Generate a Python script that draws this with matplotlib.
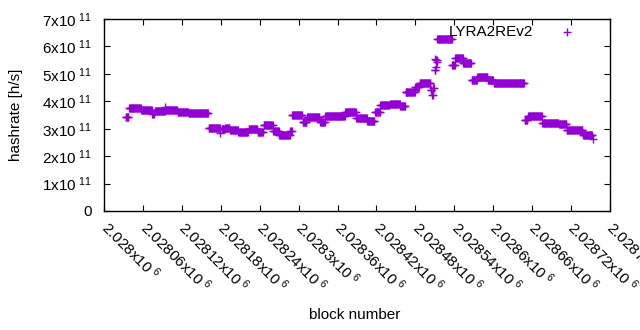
import numpy as np
import matplotlib
matplotlib.use("Agg")
import matplotlib.pyplot as plt

plt.rcParams['font.family'] = ['Liberation Sans', 'DejaVu Sans']
plt.rcParams['mathtext.fontset'] = 'custom'
plt.rcParams['mathtext.rm'] = 'Liberation Sans'

# Piecewise-constant hashrate segments (block offset from 2028000)
seg_start = [33, 38, 57, 74, 78, 94, 95, 113, 130, 161, 179, 181, 187, 194, 207, 223, 237, 246,
             261, 270, 287, 290, 306, 313, 333, 341, 372, 389, 406, 418, 426, 441, 457, 465,
             480, 487, 504, 506, 508, 510, 512, 514, 537, 542, 554, 567, 576, 586, 592, 601,
             649, 654, 676, 702, 714, 739, 754]
seg_end = [37, 56, 73, 76, 93, 94, 112, 129, 160, 178, 179, 186, 193, 206, 222, 236, 245, 260,
           269, 286, 289, 305, 312, 332, 340, 371, 388, 405, 417, 425, 440, 456, 464, 479,
           486, 503, 505, 507, 509, 511, 513, 536, 541, 553, 566, 575, 585, 591, 600, 648,
           653, 675, 701, 713, 738, 753, 754]
seg_value = [3.42, 3.74, 3.69, 3.52, 3.65, 3.80, 3.67, 3.62, 3.56, 3.01, 2.83, 2.98, 3.04, 2.94,
             2.87, 2.98, 2.89, 3.12, 2.92, 2.77, 2.90, 3.50, 3.23, 3.44, 3.26, 3.46, 3.60, 3.38,
             3.27, 3.62, 3.85, 3.89, 3.83, 4.33, 4.51, 4.66, 4.40, 4.23, 4.48, 5.14, 5.50,
             6.26, 5.32, 5.57, 5.39, 4.79, 4.87, 4.90, 4.78, 4.66, 3.30, 3.45, 3.21, 3.17,
             2.94, 2.77, 2.62]
extra_blocks = [512, 513, 511]
extra_values = [5.26, 5.44, 5.53]

base_block = 2028000
xtick_values = [2028000 + 60 * i for i in range(14)]
xtick_labels = ['2.028', '2.02806', '2.02812', '2.02818', '2.02824', '2.0283', '2.02836',
                '2.02842', '2.02848', '2.02854', '2.0286', '2.02866', '2.02872', '2.02878']
ytick_values = [0, 1e11, 2e11, 3e11, 4e11, 5e11, 6e11, 7e11]
ytick_labels = ['0', '1', '2', '3', '4', '5', '6', '7']

blocks = []
values = []
for s, e, v in zip(seg_start, seg_end, seg_value):
    for b in range(s, e + 1):
        blocks.append(base_block + b)
        values.append(v * 1e11)
for b, v in zip(extra_blocks, extra_values):
    blocks.append(base_block + b)
    values.append(v * 1e11)

FS = 11
color = '#9400d3'
fig = plt.figure(figsize=(6.4, 3.3), dpi=100)
ax = fig.add_axes([104.3 / 640, 1 - 211 / 330, (609.6 - 104.3) / 640, (211 - 19) / 330])
ax.plot(blocks, values, linestyle='none', marker='+', markersize=6, markeredgewidth=1.0,
        color=color)

ax.set_xlim(2028000, 2028780)
ax.set_ylim(0, 7e11)
ax.set_xticks(xtick_values)
ax.set_xticklabels([r'$\mathregular{' + t + r'x10^{\ 6}}$' for t in xtick_labels],
                   rotation=-45, ha='left', va='center', rotation_mode='anchor', fontsize=FS)
ax.set_yticks(ytick_values)
ax.set_yticklabels([t if t == '0' else r'$\mathregular{' + t + r'x10^{\ 11}}$' for t in ytick_labels],
                   fontsize=FS)
ax.tick_params(direction='in', length=4.5, width=0.8, top=True, right=True)
ax.tick_params(axis='y', pad=9)
ax.tick_params(axis='x', pad=10)
for sp in ax.spines.values():
    sp.set_linewidth(1.0)

ax.set_ylabel('hashrate [h/s]', fontsize=FS)
ax.yaxis.set_label_coords((23 - 104.3) / 505.3, 1 - (115 - 19) / 192)
fig.text(355 / 640, 1 - 315 / 330, 'block number', ha='center', va='center', fontsize=FS)

# legend
ax.text((533 - 104.3) / (609.6 - 104.3), 1 - (32 - 19) / 192, 'LYRA2REv2', transform=ax.transAxes,
        ha='right', va='center', fontsize=FS)
ax.plot([(567 - 104.3) / (609.6 - 104.3)], [1 - (32 - 19) / 192], transform=ax.transAxes,
        linestyle='none', marker='+', markersize=6, markeredgewidth=1.0, color=color, clip_on=False)

fig.savefig('out.png', dpi=100)
